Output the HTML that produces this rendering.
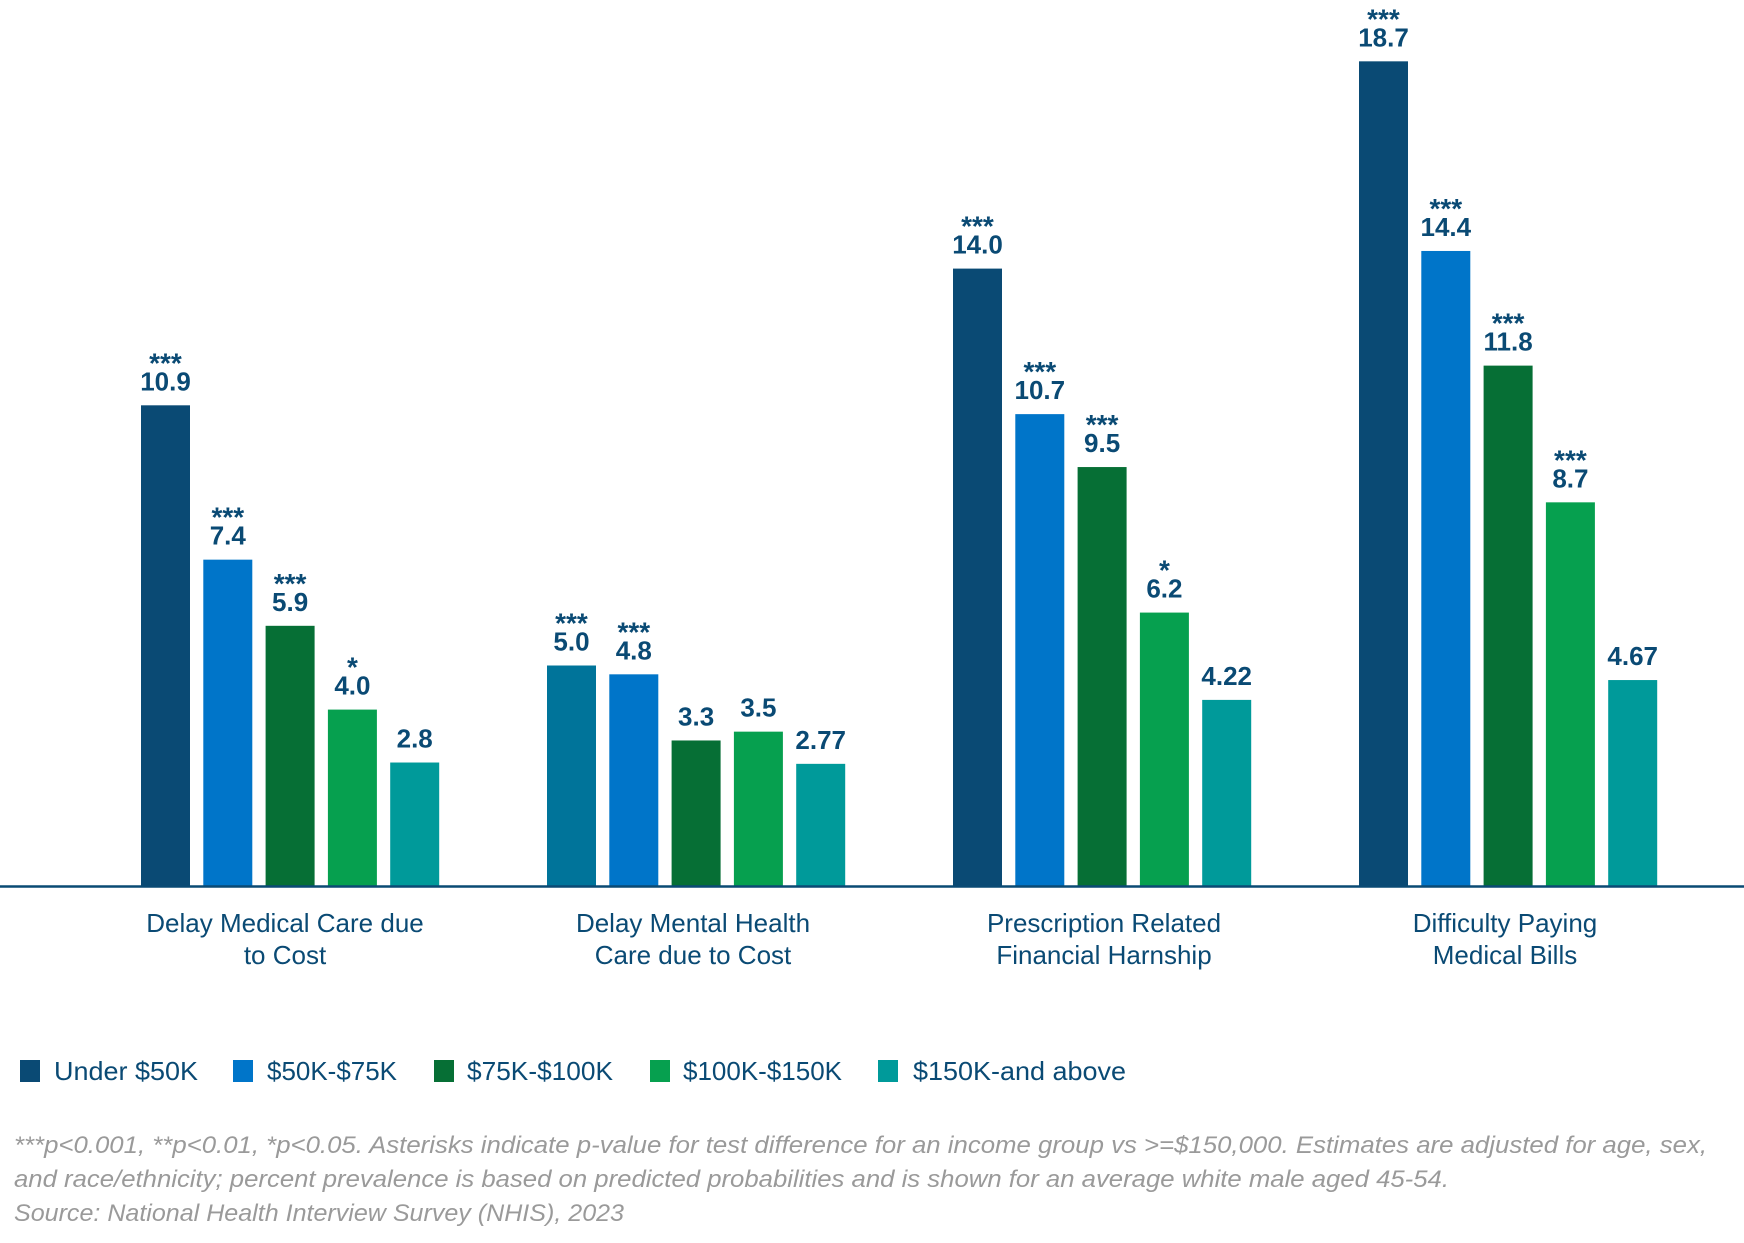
<!DOCTYPE html>
<html><head><meta charset="utf-8"><style>
html,body{margin:0;padding:0;background:#fff;}
svg{display:block;}
</style></head><body>
<svg width="1744" height="1243" viewBox="0 0 1744 1243" xmlns="http://www.w3.org/2000/svg" font-family="'Liberation Sans', sans-serif">
<g id="bars"></g>
<line x1="0" y1="886.5" x2="1744" y2="886.5" stroke="#0a4a74" stroke-width="2.5"/>
<g fill="#0a4a74" font-size="26" text-anchor="middle">
<text x="285" y="932">Delay Medical Care due</text>
<text x="285" y="964">to Cost</text>
<text x="693" y="932">Delay Mental Health</text>
<text x="693" y="964">Care due to Cost</text>
<text x="1104" y="932">Prescription Related</text>
<text x="1104" y="964">Financial Harnship</text>
<text x="1505" y="932">Difficulty Paying</text>
<text x="1505" y="964">Medical Bills</text>
</g>
<g font-size="26" fill="#0a4a74">
<rect x="20" y="1060" width="20" height="22" fill="#0a4a74"/>
<text x="54" y="1080" textLength="144" lengthAdjust="spacingAndGlyphs">Under $50K</text>
<rect x="233" y="1060" width="20" height="22" fill="#0075c9"/>
<text x="267" y="1080" textLength="130" lengthAdjust="spacingAndGlyphs">$50K-$75K</text>
<rect x="434" y="1060" width="20" height="22" fill="#066f35"/>
<text x="467" y="1080" textLength="146" lengthAdjust="spacingAndGlyphs">$75K-$100K</text>
<rect x="650" y="1060" width="20" height="22" fill="#06a04f"/>
<text x="683" y="1080" textLength="159" lengthAdjust="spacingAndGlyphs">$100K-$150K</text>
<rect x="878" y="1060" width="20" height="22" fill="#009a9a"/>
<text x="913" y="1080" textLength="213" lengthAdjust="spacingAndGlyphs">$150K-and above</text>
</g>
<g font-size="24" fill="#9a9a9a" font-style="italic">
<text x="14" y="1153" textLength="1693" lengthAdjust="spacingAndGlyphs">***p&lt;0.001, **p&lt;0.01, *p&lt;0.05. Asterisks indicate p-value for test difference for an income group vs &gt;=$150,000. Estimates are adjusted for age, sex,</text>
<text x="14" y="1187" textLength="1435" lengthAdjust="spacingAndGlyphs">and race/ethnicity; percent prevalence is based on predicted probabilities and is shown for an average white male aged 45-54.</text>
<text x="14" y="1221" textLength="610" lengthAdjust="spacingAndGlyphs">Source: National Health Interview Survey (NHIS), 2023</text>
</g>
</svg>
<script>
(function(){
var data=[
 [[10.9,'***'],[7.4,'***'],[5.9,'***'],[4.0,'*'],[2.8,'']],
 [[5.0,'***'],[4.8,'***'],[3.3,''],[3.5,''],[2.77,'']],
 [[14.0,'***'],[10.7,'***'],[9.5,'***'],[6.2,'*'],[4.22,'']],
 [[18.7,'***'],[14.4,'***'],[11.8,'***'],[8.7,'***'],[4.67,'']]
];
var colors=['#0a4a74','#0075c9','#066f35','#06a04f','#009a9a'];
var starts=[141,547,953,1359];
var base=886, k=44.1, w=49, pitch=62.3;
var ns='http://www.w3.org/2000/svg';
var g=document.getElementById('bars');
data.forEach(function(grp,gi){
 grp.forEach(function(d,i){
  var x=starts[gi]+i*pitch, h=d[0]*k, top=base-h;
  var c=colors[i]; if(gi==1&&i==0)c='#00749a';
  var r=document.createElementNS(ns,'rect');
  r.setAttribute('x',x);r.setAttribute('y',top);r.setAttribute('width',w);r.setAttribute('height',h);r.setAttribute('fill',c);
  g.appendChild(r);
  var t=document.createElementNS(ns,'text');
  t.setAttribute('x',x+w/2);t.setAttribute('y',top-15);t.setAttribute('text-anchor','middle');
  t.setAttribute('font-size','26');t.setAttribute('font-weight','bold');t.setAttribute('fill','#0a4a74');
  t.textContent=d[0].toFixed(d[0]==2.77||d[0]==4.22||d[0]==4.67?2:1);
  g.appendChild(t);
  if(d[1]){
   var s=document.createElementNS(ns,'text');
   s.setAttribute('x',x+w/2);s.setAttribute('y',top-33);s.setAttribute('text-anchor','middle');
   s.setAttribute('font-size','28');s.setAttribute('font-weight','bold');s.setAttribute('fill','#0a4a74');
   s.textContent=d[1];g.appendChild(s);
  }
 });
});
})();
</script>
</body></html>
